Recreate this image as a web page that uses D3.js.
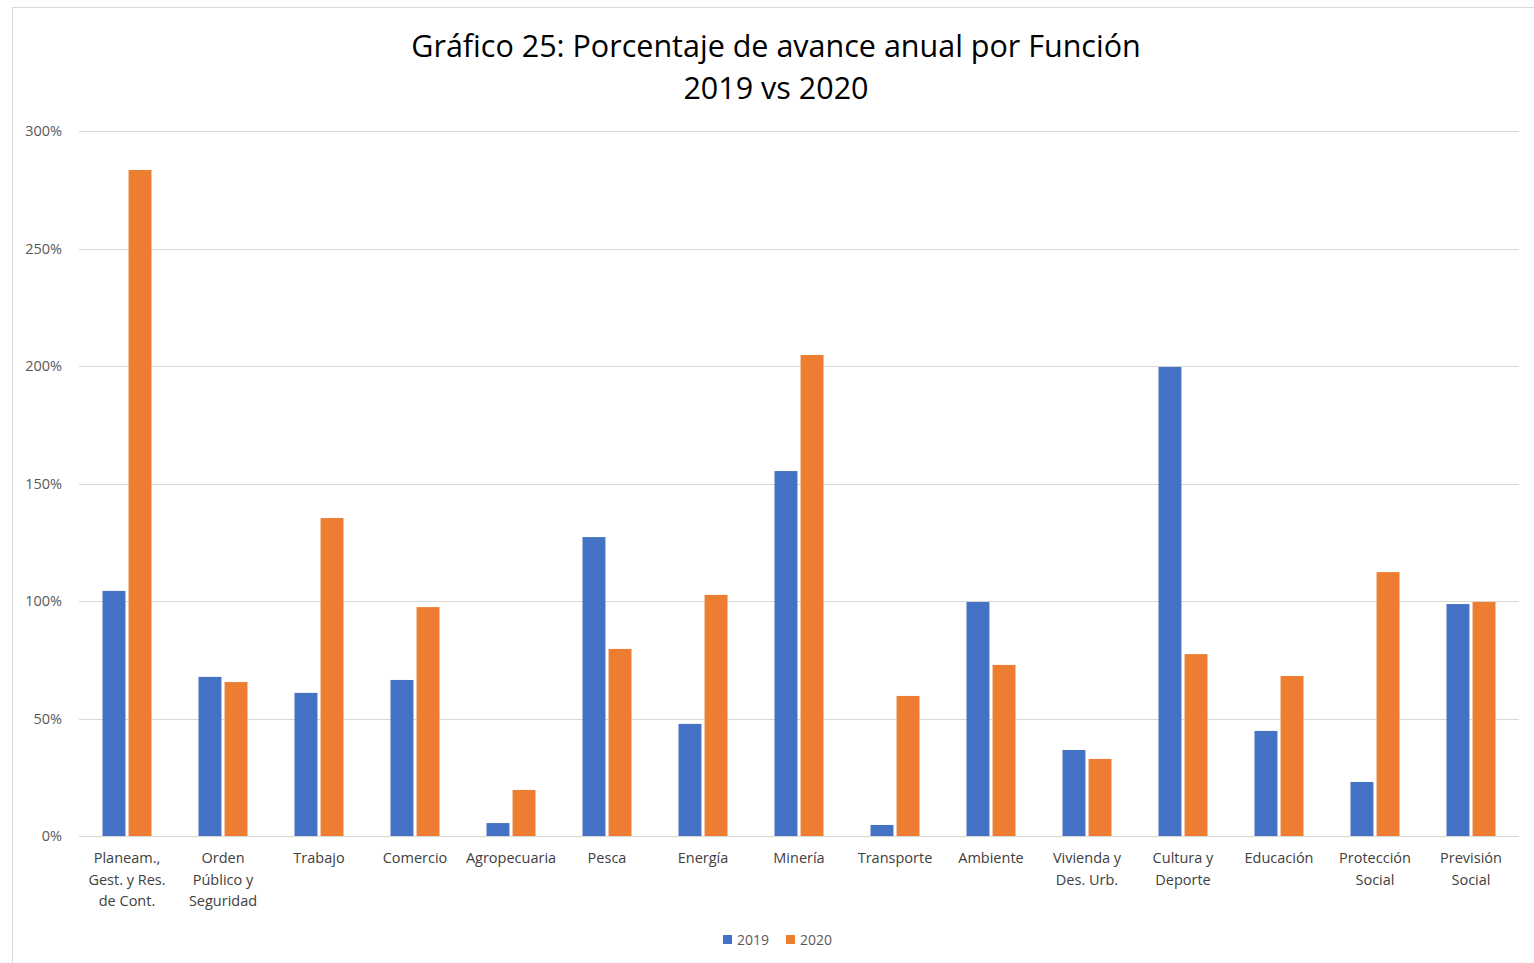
<!DOCTYPE html>
<html><head><meta charset="utf-8">
<script src="https://cdn.jsdelivr.net/npm/d3@7"></script>
<style>
html,body{margin:0;padding:0;background:#fff;}
svg{display:block;}
text{font-family:"Open Sans","Noto Sans",sans-serif;}
</style></head>
<body>
<svg id="chart" width="1534" height="963"></svg>
<script>
const categories = [
  "Planeam.,\nGest. y Res.\nde Cont.",
  "Orden\nPúblico y\nSeguridad",
  "Trabajo",
  "Comercio",
  "Agropecuaria",
  "Pesca",
  "Energía",
  "Minería",
  "Transporte",
  "Ambiente",
  "Vivienda y\nDes. Urb.",
  "Cultura y\nDeporte",
  "Educación",
  "Protección\nSocial",
  "Previsión\nSocial"
];
const series2019 = [1.043, 0.677, 0.609, 0.664, 0.055, 1.272, 0.477, 1.553, 0.047, 0.996, 0.366, 1.996, 0.447, 0.230, 0.987];
const series2020 = [2.834, 0.655, 1.353, 0.974, 0.196, 0.796, 1.026, 2.047, 0.596, 0.728, 0.328, 0.774, 0.681, 1.123, 0.996];
const seriesNames = ["2019", "2020"];
const seriesColors = ["#4472C4", "#ED7D31"];
const yTicks = [0, 0.5, 1, 1.5, 2, 2.5, 3];
const titleLines = ["Gráfico 25: Porcentaje de avance anual por Función", "2019 vs 2020"];

const svg = d3.select("#chart");
const plot = {left: 79, right: 1519, top: 131, bottom: 836};

// outer border
svg.append("rect").attr("x", 12.5).attr("y", 7.5).attr("width", 1530).attr("height", 970)
  .attr("fill", "#fff").attr("stroke", "#d9d9d9").attr("stroke-width", 1);

const x0 = d3.scaleBand().domain(d3.range(categories.length)).range([plot.left, plot.right]).paddingInner(0).paddingOuter(0);
const x1 = d3.scaleBand().domain([0, 1]).range([x0.bandwidth()/2 - 24.5, x0.bandwidth()/2 + 24.5]).paddingInner(0.12);
const y = d3.scaleLinear().domain([0, 3]).range([plot.bottom, plot.top]);

// gridlines
svg.append("g").selectAll("line").data(yTicks).join("line")
  .attr("x1", plot.left).attr("x2", plot.right)
  .attr("y1", d => Math.round(y(d)) + 0.5).attr("y2", d => Math.round(y(d)) + 0.5)
  .attr("stroke", "#d9d9d9").attr("stroke-width", 1);

// y axis labels
const yAxis = d3.axisLeft(y).tickValues(yTicks).tickFormat(d => Math.round(d * 100) + "%").tickSize(0).tickPadding(17);
const gy = svg.append("g").attr("transform", `translate(${plot.left},0)`).call(yAxis);
gy.select(".domain").remove();
gy.selectAll("text").attr("font-size", 14.5).attr("fill", "#595959").attr("font-family", "'Open Sans',sans-serif");

// bars
const data = categories.map((c, i) => ({i, vals: [series2019[i], series2020[i]]}));
const groups = svg.append("g").selectAll("g").data(data).join("g")
  .attr("transform", d => `translate(${x0(d.i)},0)`);
groups.selectAll("rect").data(d => d.vals.map((v, k) => ({v, k}))).join("rect")
  .attr("x", d => x1(d.k))
  .attr("width", x1.bandwidth())
  .attr("y", d => y(d.v))
  .attr("height", d => y(0) - y(d.v))
  .attr("fill", d => seriesColors[d.k]);

// x axis labels
const xl = svg.append("g");
categories.forEach((c, i) => {
  const cx = x0(i) + x0.bandwidth()/2;
  const lines = c.split("\n");
  const t = xl.append("text").attr("x", cx).attr("y", 863)
    .attr("text-anchor", "middle").attr("font-size", 14.5).attr("fill", "#404040");
  lines.forEach((l, j) => t.append("tspan").attr("x", cx).attr("dy", j === 0 ? 0 : 21.5).text(l));
});

// title
const tt = svg.append("g");
titleLines.forEach((l, j) => {
  tt.append("text").attr("x", 776).attr("y", 57 + j * 42).attr("text-anchor", "middle")
    .attr("font-size", 30.5).attr("fill", "#000").attr("font-family", "Lato,'Open Sans',sans-serif").text(l);
});

// legend
const lg = svg.append("g");
const legX = [723, 786];
seriesNames.forEach((n, k) => {
  lg.append("rect").attr("x", legX[k]).attr("y", 935).attr("width", 9).attr("height", 9).attr("fill", seriesColors[k]);
  lg.append("text").attr("x", legX[k] + 14).attr("y", 945).attr("font-size", 14).attr("fill", "#595959").text(n);
});
</script>
</body></html>
